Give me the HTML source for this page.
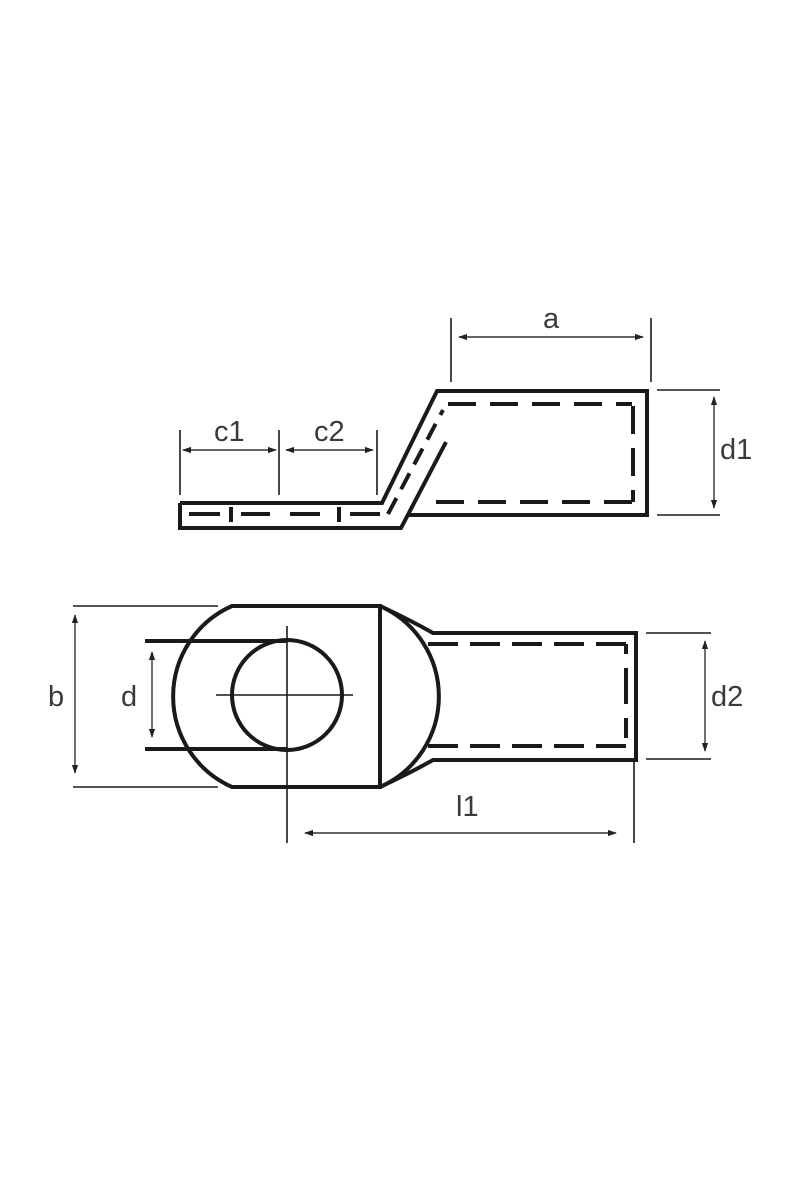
<!DOCTYPE html>
<html><head><style>html,body{margin:0;padding:0;background:#fff}svg{display:block}text{font-family:"Liberation Sans",sans-serif;font-size:29px;fill:#3a3a3a}</style></head>
<body>
<svg width="800" height="1200" viewBox="0 0 800 1200" xmlns="http://www.w3.org/2000/svg">
<defs>
<marker id="ar" viewBox="0 0 10 10" refX="9" refY="5" markerWidth="9" markerHeight="9" markerUnits="userSpaceOnUse" orient="auto-start-reverse"><path d="M0,1.5 L10,5 L0,8.5 Z" fill="#222"/></marker>
</defs>
<g fill="none" stroke="#1a1a1a" stroke-width="4" stroke-linejoin="miter">
<!-- top view -->
<path d="M180,503 L382,503 L437,391 L647,391 L647,515 L409,515"/>
<path d="M180,503 L180,528 L401,528 L446,442"/>
<g stroke-dasharray="28,14" stroke-width="4">
<path d="M448,404 L632,404"/>
<path d="M633,406 L633,502"/>
<path d="M632,502 L428,502"/>
<path d="M388,514 L443,410" stroke-dasharray="18,10"/>
</g>
<path d="M189,514 L220,514 M241,514 L270,514 M290,514 L320,514 M350,514 L380,514"/>
<path d="M231,507 L231,522 M339,507 L339,522" stroke-width="4"/>
<!-- front view -->
<path d="M232,606 L380,606 L380,787 L232,787 A99,99 0 0 1 232,606 Z"/>
<path d="M380,606 A99,99 0 0 1 380,787"/>
<path d="M380,606 Q410,620 433,633 L636,633 L636,760 L433,760 Q410,773 380,787"/>
<circle cx="287" cy="695" r="55"/>
<path d="M145,641 L287,641 M145,749 L287,749"/>
<g stroke-dasharray="30,12">
<path d="M428,644 L626,644"/>
<path d="M428,746 L626,746"/>
<path d="M626,644 L626,746" stroke-dasharray="10,14,36,14,20"/>
</g>
</g>
<g fill="none" stroke="#1a1a1a" stroke-width="1.6">
<path d="M287,626 L287,843 M216,695 L353,695"/>
<path d="M451,318 L451,382 M651,318 L651,382"/>
<path d="M180,430 L180,495 M279,430 L279,495 M377,430 L377,495"/>
<path d="M657,390 L720,390 M657,515 L720,515"/>
<path d="M73,606 L218,606 M73,787 L218,787"/>
<path d="M646,633 L711,633 M646,759 L711,759"/>
<path d="M634,760 L634,843"/>
</g>
<g stroke="#333" stroke-width="1.4" marker-start="url(#ar)" marker-end="url(#ar)">
<line x1="459" y1="337" x2="643" y2="337"/>
<line x1="183" y1="450" x2="276" y2="450"/>
<line x1="286" y1="450" x2="373" y2="450"/>
<line x1="714" y1="397" x2="714" y2="508"/>
<line x1="75" y1="615" x2="75" y2="773"/>
<line x1="152" y1="652" x2="152" y2="737"/>
<line x1="705" y1="641" x2="705" y2="751"/>
<line x1="305" y1="833" x2="616" y2="833"/>
</g>
<text x="543" y="328">a</text>
<text x="214" y="441">c1</text>
<text x="314" y="441">c2</text>
<text x="720" y="459">d1</text>
<text x="48" y="706">b</text>
<text x="121" y="706">d</text>
<text x="711" y="706">d2</text>
<text x="456" y="816">l1</text>
</svg>
</body></html>
